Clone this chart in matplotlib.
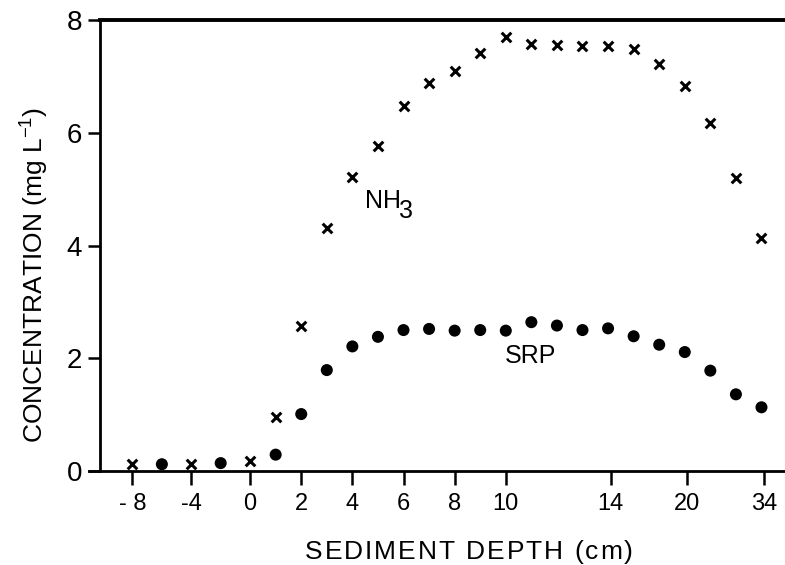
import matplotlib
matplotlib.use("Agg")
import matplotlib.pyplot as plt
from matplotlib import font_manager

# ---- data (x = position along the core axis, ordinal scale) ----
nh3_x = [-4.6, -2.3, 0, 1, 2, 3, 4, 5, 6, 7, 8, 9, 10, 11, 12, 13, 14, 15, 16, 17, 18, 19, 20]
nh3_y = [0.12, 0.12, 0.17, 0.95, 2.58, 4.31, 5.21, 5.76, 6.48, 6.89, 7.09, 7.42, 7.69,
         7.57, 7.55, 7.54, 7.54, 7.49, 7.22, 6.83, 6.18, 5.20, 4.13]
srp_x = [-3.45, -1.15, 1, 2, 3, 4, 5, 6, 7, 8, 9, 10, 11, 12, 13, 14, 15, 16, 17, 18, 19, 20]
srp_y = [0.12, 0.14, 0.29, 1.01, 1.79, 2.21, 2.38, 2.50, 2.52, 2.49, 2.50, 2.49,
         2.64, 2.58, 2.50, 2.53, 2.39, 2.24, 2.11, 1.78, 1.36, 1.13]
xtick_pos = [-4.6, -2.3, 0, 2, 4, 6, 8, 10, 14.1, 17.1, 20.1]
xtick_labels = ['- 8', '-4', '0', '2', '4', '6', '8', '10', '14', '20', '34']
ytick_pos = [0, 2, 4, 6, 8]
xlabel_text = 'SEDIMENT DEPTH (cm)'

names = {f.name for f in font_manager.fontManager.ttflist}
main_font = 'Liberation Sans' if 'Liberation Sans' in names else 'DejaVu Sans'

plt.rcParams['font.family'] = [main_font, 'DejaVu Sans']
plt.rcParams['mathtext.fontset'] = 'custom'
plt.rcParams['mathtext.rm'] = main_font
plt.rcParams['mathtext.it'] = main_font

fig = plt.figure(figsize=(7.85, 5.65), dpi=100)
ax = fig.add_axes([100/785, 94/565, 685/785, 451/565])

ax.scatter(nh3_x, nh3_y, marker='x', s=48, linewidths=2.2, color='black', zorder=3, clip_on=False)
ax.scatter(srp_x, srp_y, marker='o', s=75, color='black', edgecolors='none', zorder=3, clip_on=False)

ax.set_xlim(-5.87, 20.92)
ax.set_ylim(0, 8)

ax.spines['right'].set_visible(False)
ax.spines['left'].set_linewidth(2)
ax.spines['bottom'].set_linewidth(2)
ax.spines['top'].set_linewidth(2.8)
ax.spines['bottom'].set_bounds(-6.3, 20.92)

ax.set_xticks(xtick_pos)
ax.set_xticklabels(xtick_labels, fontsize=17)
ax.set_yticks(ytick_pos)
ax.set_yticklabels([str(v) for v in ytick_pos], fontsize=20)
ax.tick_params(axis='x', direction='out', length=10, width=1.8, pad=6)
ax.tick_params(axis='y', direction='out', length=9, width=1.8, pad=4)

fig.text(35/785, 1 - 275/565, 'CONCENTRATION (mg L$^{\\mathregular{-1}}$)', fontsize=19,
         rotation=90, ha='center', va='center')

# x-axis title with slightly wide letter spacing (as in the reference)
renderer = fig.canvas.get_renderer()
fs = 19
def prefix_width(s):
    if not s:
        return 0.0
    t = fig.text(0, 0, s.replace(' ', '\u00a0'), fontsize=fs)
    w = t.get_window_extent(renderer).width
    t.remove()
    return w
target_w = 328.0
base_w = prefix_width(xlabel_text)
n = len(xlabel_text)
track = max(0.0, (target_w - base_w) / (n - 1))
x_left = 469 - (base_w + track * (n - 1)) / 2
y_base = 1 - 559 / 565
for i, ch in enumerate(xlabel_text):
    if ch == ' ':
        continue
    xpix = x_left + prefix_width(xlabel_text[:i]) + i * track
    fig.text(xpix / 785, y_base, ch, fontsize=fs, ha='left', va='baseline')

ax.text(4.5, 4.665, 'NH', fontsize=18, ha='left', va='baseline')
ax.text(5.83, 4.49, '3', fontsize=18, ha='left', va='baseline')
ax.text(9.97, 1.916, 'SRP', fontsize=18, ha='left', va='baseline')

fig.savefig('out.png', dpi=100)
